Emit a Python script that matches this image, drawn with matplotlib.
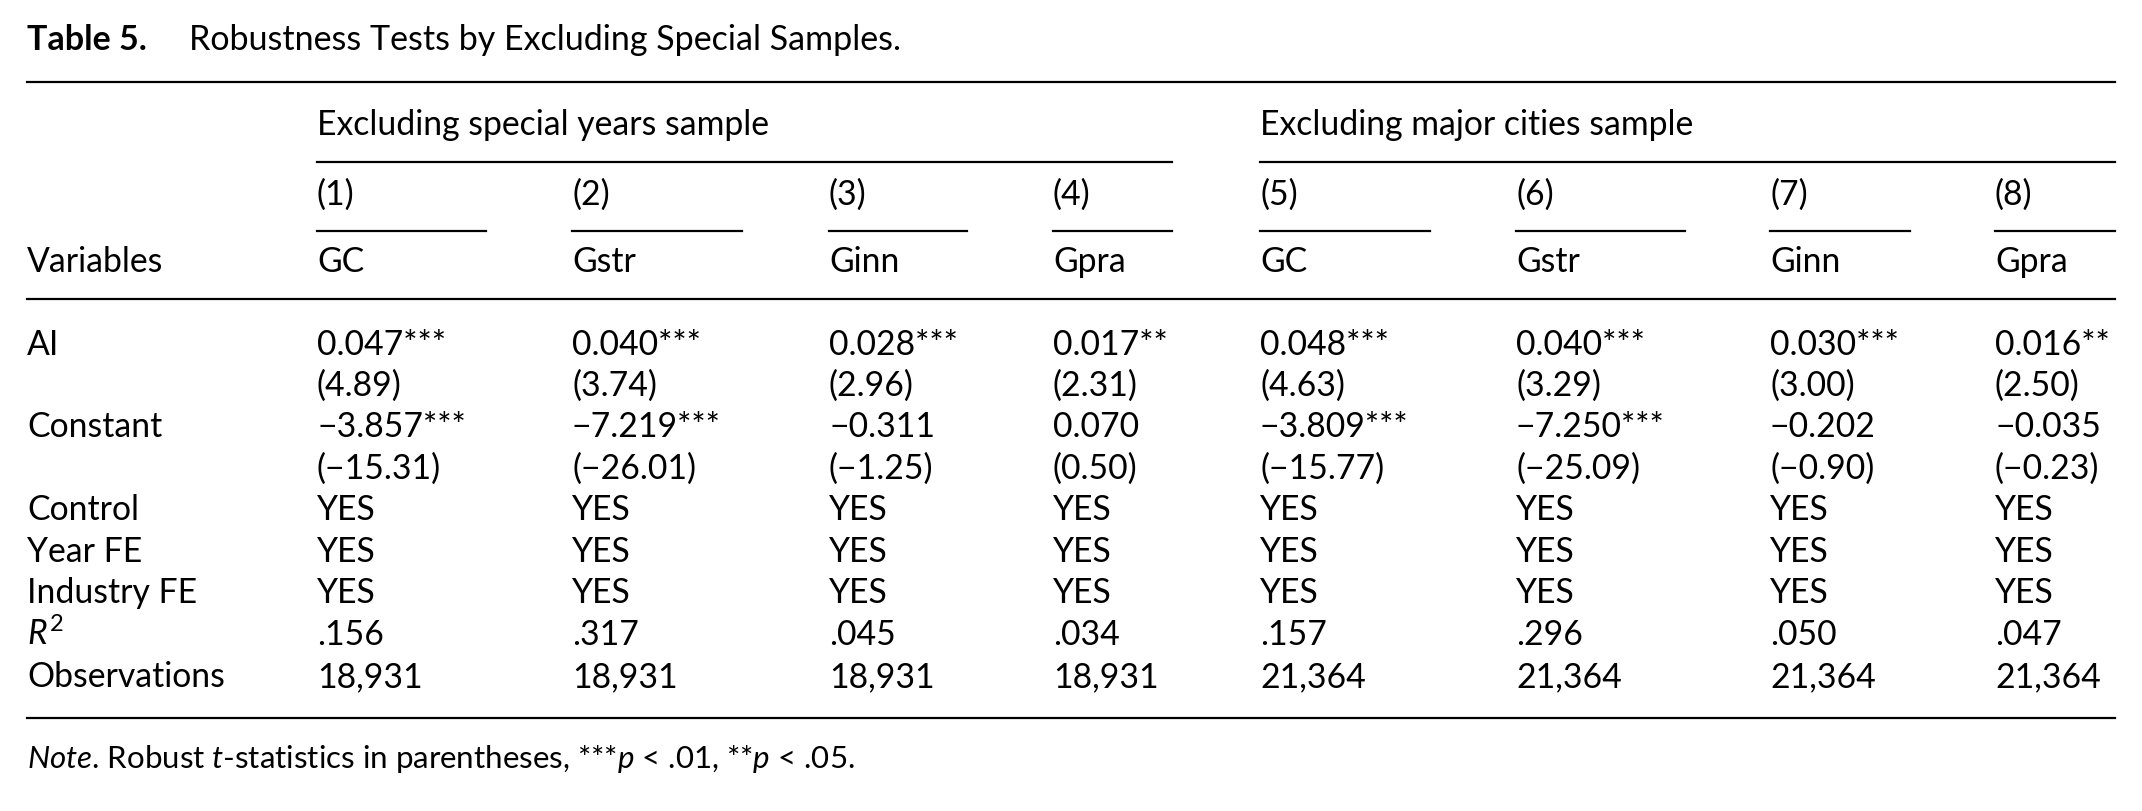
import matplotlib
matplotlib.use("Agg")
import matplotlib.pyplot as plt

plt.rcParams["font.family"] = ["Lato", "DejaVu Sans"]
plt.rcParams["mathtext.fontset"] = "custom"
plt.rcParams["mathtext.rm"] = "Lato"
plt.rcParams["mathtext.it"] = "Lato:italic"

# Table content
title_bold = "Table 5."
title_rest = "Robustness Tests by Excluding Special Samples."
groups = ["Excluding special years sample", "Excluding major cities sample"]
col_nums = ["(1)", "(2)", "(3)", "(4)", "(5)", "(6)", "(7)", "(8)"]
dep_vars = ["GC", "Gstr", "Ginn", "Gpra", "GC", "Gstr", "Ginn", "Gpra"]

row_labels = ["AI", "", "Constant", "", "Control", "Year FE", "Industry FE",
              "$R^2$", "Observations"]
ai_coef = ["0.047***", "0.040***", "0.028***", "0.017**",
           "0.048***", "0.040***", "0.030***", "0.016**"]
ai_t = ["(4.89)", "(3.74)", "(2.96)", "(2.31)",
        "(4.63)", "(3.29)", "(3.00)", "(2.50)"]
const_coef = ["\u22123.857***", "\u22127.219***", "\u22120.311", "0.070",
              "\u22123.809***", "\u22127.250***", "\u22120.202", "\u22120.035"]
const_t = ["(\u221215.31)", "(\u221226.01)", "(\u22121.25)", "(0.50)",
           "(\u221215.77)", "(\u221225.09)", "(\u22120.90)", "(\u22120.23)"]
control = ["YES"] * 8
year_fe = ["YES"] * 8
industry_fe = ["YES"] * 8
r2 = [".156", ".317", ".045", ".034", ".157", ".296", ".050", ".047"]
observations = ["18,931", "18,931", "18,931", "18,931",
                "21,364", "21,364", "21,364", "21,364"]
note = (r"$\mathit{Note}$. Robust $\mathit{t}$-statistics in parentheses, "
        r"***$\mathit{p}$ < .01, **$\mathit{p}$ < .05.")

body = [ai_coef, ai_t, const_coef, const_t, control, year_fe, industry_fe,
        r2, observations]

# Layout (pixel coordinates)
W, H = 2142, 811
left, right = 27, 2115
col_x = [317, 572, 829, 1053, 1260, 1516, 1770, 1995]
col_rule_end = [486, 742, 967, 1172, 1430, 1685, 1910, 2115]
group_span = [(317, 1172), (1260, 2115)]
row_y = [355, 396, 437, 479, 520, 562, 603, 645, 687]
fs = 24.3
lw = 1.6

fig = plt.figure(figsize=(W / 100, H / 100), dpi=100)
ax = fig.add_axes([0, 0, 1, 1])
ax.set_xlim(0, W)
ax.set_ylim(H, 0)
ax.axis("off")

# title
ax.text(left, 50, title_bold, fontsize=24.5, fontweight="bold", va="baseline")
ax.text(189, 50, title_rest, fontsize=24.5, va="baseline")

# rules
ax.plot([left, right], [82, 82], color="black", lw=lw)
for x0, x1 in group_span:
    ax.plot([x0, x1], [162, 162], color="black", lw=lw)
for x0, x1 in zip(col_x, col_rule_end):
    ax.plot([x0, x1], [231, 231], color="black", lw=lw)
ax.plot([left, right], [299, 299], color="black", lw=lw)
ax.plot([left, right], [718, 718], color="black", lw=lw)

# header
for (x0, _), g in zip(group_span, groups):
    ax.text(x0, 135, g, fontsize=fs, va="baseline")
for x, c in zip(col_x, col_nums):
    ax.text(x, 205, c, fontsize=fs, va="baseline")
ax.text(left, 272, "Variables", fontsize=fs, va="baseline")
for x, d in zip(col_x, dep_vars):
    ax.text(x, 272, d, fontsize=fs, va="baseline")

# body
for y, lab, vals in zip(row_y, row_labels, body):
    if lab:
        ax.text(left, y, lab, fontsize=fs, va="baseline")
    for x, v in zip(col_x, vals):
        ax.text(x, y, v, fontsize=fs, va="baseline")

# note
ax.text(left, 768, note, fontsize=22.5, va="baseline")

fig.savefig("out.png", dpi=100, facecolor="white")
